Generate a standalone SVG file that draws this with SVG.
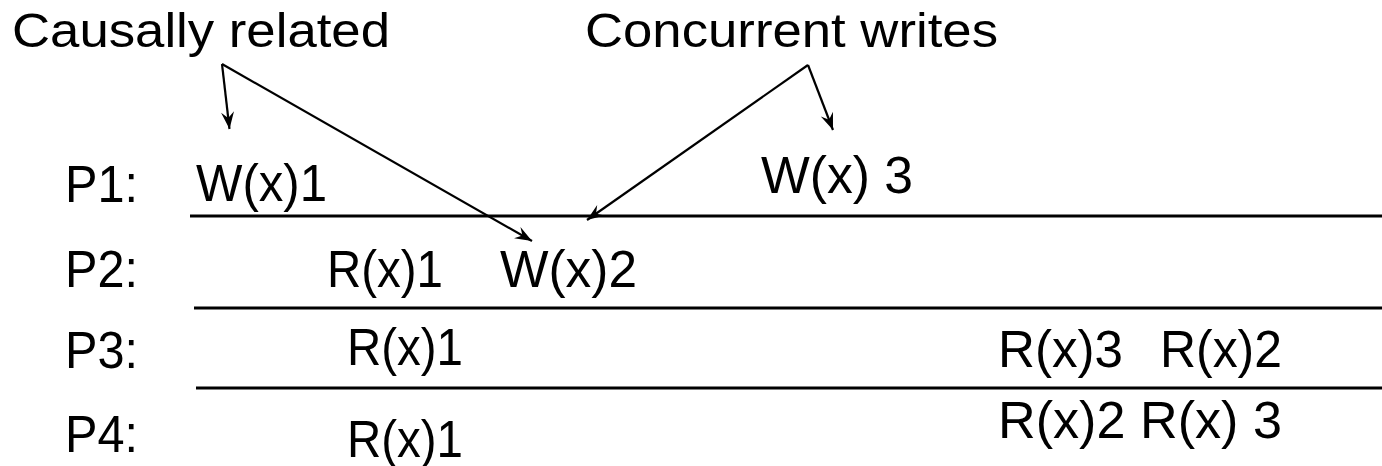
<svg xmlns="http://www.w3.org/2000/svg" width="1382" height="466" viewBox="0 0 1382 466">
  <style>
    text { font-family: "Liberation Sans", Arial, sans-serif; font-size: 51px; fill: #000; }
    .top { font-size: 49px; }
    .tl { stroke: #000; stroke-width: 3; fill: none; }
    .ar { stroke: #000; stroke-width: 2.2; fill: none; marker-end: url(#ah); }
  </style>
  <defs>
    <marker id="ah" markerUnits="userSpaceOnUse" viewBox="-18 -8 20 16" refX="0" refY="0" markerWidth="20" markerHeight="16" orient="auto">
      <path d="M0,0 L-17,-6.5 L-11,0 L-17,6.5 Z" fill="#000"/>
    </marker>
  </defs>
  <rect width="1382" height="466" fill="#fff"/>
  <g id="labels">
    <text id="causal" class="top" x="12" y="47" textLength="378" lengthAdjust="spacingAndGlyphs">Causally related</text>
    <text id="concurrent" class="top" x="585" y="47" textLength="413" lengthAdjust="spacingAndGlyphs">Concurrent writes</text>
  </g>
  <g id="timelines">
    <line class="tl" x1="190" y1="216" x2="1382" y2="216"/>
    <line class="tl" x1="194" y1="308" x2="1382" y2="308"/>
    <line class="tl" x1="196" y1="388" x2="1382" y2="388"/>
  </g>
  <g id="p1">
    <text x="65" y="202" textLength="73" lengthAdjust="spacingAndGlyphs">P1:</text>
    <text x="196" y="201" textLength="131" lengthAdjust="spacingAndGlyphs">W(x)1</text>
    <text x="761" y="193" textLength="152" lengthAdjust="spacingAndGlyphs">W(x) 3</text>
  </g>
  <g id="p2">
    <text x="65" y="287" textLength="73" lengthAdjust="spacingAndGlyphs">P2:</text>
    <text x="327" y="287" textLength="116" lengthAdjust="spacingAndGlyphs">R(x)1</text>
    <text x="500" y="287" textLength="137" lengthAdjust="spacingAndGlyphs">W(x)2</text>
  </g>
  <g id="p3">
    <text x="65" y="368" textLength="73" lengthAdjust="spacingAndGlyphs">P3:</text>
    <text x="347" y="365" textLength="116" lengthAdjust="spacingAndGlyphs">R(x)1</text>
    <text x="998" y="367" textLength="125" lengthAdjust="spacingAndGlyphs">R(x)3</text>
    <text x="1160" y="367" textLength="122" lengthAdjust="spacingAndGlyphs">R(x)2</text>
  </g>
  <g id="p4">
    <text x="65" y="452" textLength="73" lengthAdjust="spacingAndGlyphs">P4:</text>
    <text x="347" y="457" textLength="116" lengthAdjust="spacingAndGlyphs">R(x)1</text>
    <text x="998" y="438" textLength="284" lengthAdjust="spacingAndGlyphs">R(x)2 R(x) 3</text>
  </g>
  <g id="connectors">
    <line class="ar" x1="222" y1="64" x2="229.5" y2="129"/>
    <line class="ar" x1="222" y1="64" x2="532" y2="241"/>
    <line class="ar" x1="808" y1="65" x2="833" y2="130"/>
    <line class="ar" x1="808" y1="65" x2="587" y2="220"/>
  </g>
</svg>
